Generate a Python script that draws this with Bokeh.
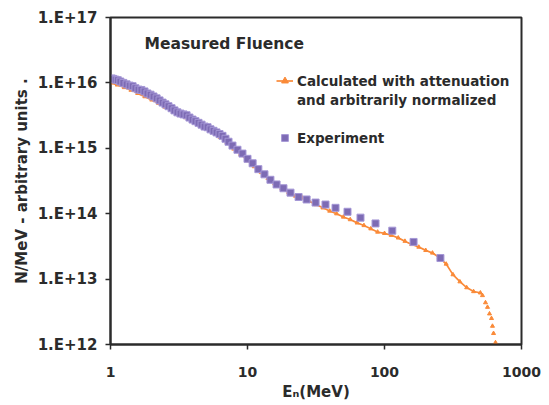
from bokeh.plotting import figure
from bokeh.models import (Range1d, FixedTicker, CustomJSTickFormatter, Legend,
                          LegendItem, Label)
from bokeh.embed import file_html
from bokeh.resources import INLINE

# ---------------- data ----------------
exp_energy = [1.02, 1.05, 1.09, 1.13, 1.18, 1.24, 1.31, 1.38, 1.45, 1.52,
              1.60, 1.68, 1.77, 1.86, 1.96, 2.06, 2.17, 2.28, 2.40, 2.52,
              2.65, 2.79, 2.93, 3.08, 3.24, 3.41, 3.59, 3.77, 3.97, 4.17,
              4.39, 4.62, 4.86, 5.11, 5.37, 5.65, 5.94, 6.25, 6.57, 6.91,
              7.27, 7.77, 8.45, 9.19, 10.0, 10.9, 12.0, 13.3, 14.7, 16.3,
              18.3, 20.6, 23.6, 27.0, 31.4, 37.1, 43.9, 53.7, 66.8, 86.0,
              114.0, 163.0, 256.0]
exp_fluence = [1.17e16, 1.15e16, 1.12e16, 1.10e16, 1.05e16, 1.00e16, 9.5e15, 9.1e15, 8.9e15, 8.3e15,
               7.9e15, 7.8e15, 7.4e15, 6.9e15, 6.6e15, 6.2e15, 5.8e15, 5.4e15, 5.0e15, 4.7e15,
               4.4e15, 4.1e15, 3.8e15, 3.55e15, 3.4e15, 3.3e15, 3.2e15, 2.95e15, 2.75e15, 2.6e15,
               2.45e15, 2.3e15, 2.15e15, 2.1e15, 1.95e15, 1.85e15, 1.75e15, 1.65e15, 1.55e15, 1.4e15,
               1.26e15, 1.10e15, 9.5e14, 8.3e14, 6.9e14, 5.9e14, 4.8e14, 4.0e14, 3.3e14, 2.8e14,
               2.45e14, 2.1e14, 1.8e14, 1.65e14, 1.48e14, 1.38e14, 1.23e14, 1.07e14, 8.7e13, 7.1e13,
               5.5e13, 3.7e13, 2.1e13]

calc_energy = [1.00, 1.12, 1.26, 1.41, 1.58, 1.78, 2.00, 2.24, 2.51, 2.82,
               3.16, 3.55, 3.98, 4.47, 5.01, 5.62, 6.31, 7.08, 7.94, 8.91,
               10.0, 11.2, 12.6, 14.1, 15.8, 17.8, 20.0, 22.4, 25.1, 28.2,
               31.6, 35.5, 39.8, 44.7, 50.1, 56.2, 63.1, 70.8, 79.4, 89.1,
               100.0, 112.0, 126.0, 141.0, 158.0, 178.0, 200.0, 224.0, 251.0, 282.0,
               316.0, 355.0, 398.0, 447.0, 501.0]
calc_fluence = [1.00e16, 9.33e15, 8.51e15, 7.76e15, 6.92e15, 6.17e15, 5.50e15, 4.90e15, 4.27e15, 3.80e15,
                3.39e15, 2.95e15, 2.63e15, 2.29e15, 2.00e15, 1.74e15, 1.48e15, 1.23e15, 9.77e14, 8.13e14,
                6.46e14, 5.25e14, 4.27e14, 3.47e14, 2.88e14, 2.40e14, 2.09e14, 1.86e14, 1.74e14, 1.55e14,
                1.38e14, 1.23e14, 1.10e14, 1.00e14, 8.91e13, 8.13e13, 7.24e13, 6.61e13, 5.89e13, 5.25e13,
                5.01e13, 4.68e13, 4.27e13, 3.80e13, 3.39e13, 3.09e13, 2.75e13, 2.51e13, 2.14e13, 1.70e13,
                1.17e13, 9.12e12, 7.41e12, 6.46e12, 6.17e12]
tail_energy = [519.0, 546.0, 565.0, 584.0, 604.0, 614.0, 625.0, 646.0]
tail_fluence = [5.62e12, 4.37e12, 3.72e12, 2.95e12, 2.51e12, 1.91e12, 1.48e12, 1.07e12]

x_ticks = [1, 10, 100, 1000]
x_tick_labels = ["1", "10", "100", "1000"]
y_ticks = [1e12, 1e13, 1e14, 1e15, 1e16, 1e17]
y_tick_labels = ["1.E+12", "1.E+13", "1.E+14", "1.E+15", "1.E+16", "1.E+17"]

title_text = "Measured Fluence"
calc_label_1 = "Calculated with attenuation"
calc_label_2 = "and arbitrarily normalized"
exp_label = "Experiment"

ORANGE = "#FA8A38"
PURPLE = "#7D6BB4"
FONT = "DejaVu Sans"
DARK = "#2b2b2b"

# ---------------- figure ----------------
p = figure(width=549, height=405, x_axis_type="log", y_axis_type="log",
           x_range=Range1d(1, 1000), y_range=Range1d(1e12, 1e17),
           output_backend="svg", toolbar_location=None,
           min_border_left=110, min_border_right=28,
           min_border_top=17, min_border_bottom=61)

p.background_fill_color = "white"
p.border_fill_color = "white"
p.outline_line_color = DARK
p.outline_line_width = 2
p.xgrid.visible = False
p.ygrid.visible = False

fmt_code = """
let best = 0;
for (let i = 0; i < tv.length; i++) {
  if (Math.abs(Math.log10(tv[i]) - Math.log10(tick)) <
      Math.abs(Math.log10(tv[best]) - Math.log10(tick))) best = i;
}
return tl[best];
"""

for ax, ticks, labels in ((p.xaxis[0], x_ticks, x_tick_labels),
                          (p.yaxis[0], y_ticks, y_tick_labels)):
    ax.ticker = FixedTicker(ticks=ticks, minor_ticks=[])
    ax.formatter = CustomJSTickFormatter(args=dict(tv=ticks, tl=labels), code=fmt_code)
    ax.axis_line_color = DARK
    ax.axis_line_width = 2
    ax.major_tick_line_color = DARK
    ax.major_tick_line_width = 1.5
    ax.major_tick_out = 5
    ax.major_tick_in = 0
    ax.minor_tick_line_color = None
    ax.major_label_text_font = FONT
    ax.major_label_text_font_style = "bold"
    ax.major_label_text_color = DARK
    ax.axis_label_text_font = FONT
    ax.axis_label_text_font_style = "bold"
    ax.axis_label_text_color = DARK
    ax.axis_label_text_font_size = "15px"

p.yaxis[0].major_label_text_font_size = "15px"
p.xaxis[0].major_label_text_font_size = "14px"
p.yaxis[0].major_label_standoff = 8
p.yaxis[0].axis_label_standoff = 4
p.xaxis[0].major_label_standoff = 17
p.xaxis[0].axis_label_standoff = 3
p.yaxis[0].axis_label = "N/MeV - arbitrary units ."
p.xaxis[0].axis_label = "E\u2099(MeV)"

# ---------------- glyphs ----------------
calc_line = p.line(calc_energy, calc_fluence, line_color=ORANGE, line_width=1.7)
calc_pts = p.scatter(calc_energy, calc_fluence, marker="triangle", size=4,
                     fill_color=ORANGE, line_color=ORANGE)
p.scatter(tail_energy, tail_fluence, marker="triangle", size=4,
          fill_color=ORANGE, line_color=ORANGE)
exp_pts = p.scatter(exp_energy, exp_fluence, marker="square", size=7,
                    fill_color=PURPLE, line_color="#A597D6", line_width=1)

# ---------------- legend ----------------
legend = Legend(items=[LegendItem(label=calc_label_1, renderers=[calc_line, calc_pts]),
                       LegendItem(label=calc_label_2, renderers=[]),
                       LegendItem(label=" ", renderers=[]),
                       LegendItem(label=exp_label, renderers=[exp_pts])],
                location=(166, 197), orientation="vertical",
                background_fill_alpha=0, border_line_color=None,
                padding=0, margin=0, spacing=0,
                glyph_width=17, glyph_height=19, label_height=19, label_standoff=4,
                label_text_font=FONT, label_text_font_style="bold",
                label_text_font_size="13.5px", label_text_color=DARK)
p.add_layout(legend)

p.add_layout(Label(x=34, y=301, x_units="screen", y_units="screen", text=title_text,
                   text_font=FONT, text_font_style="bold", text_font_size="15.5px",
                   text_color=DARK, text_baseline="middle"))

open("out.html", "w").write(file_html(p, INLINE))
